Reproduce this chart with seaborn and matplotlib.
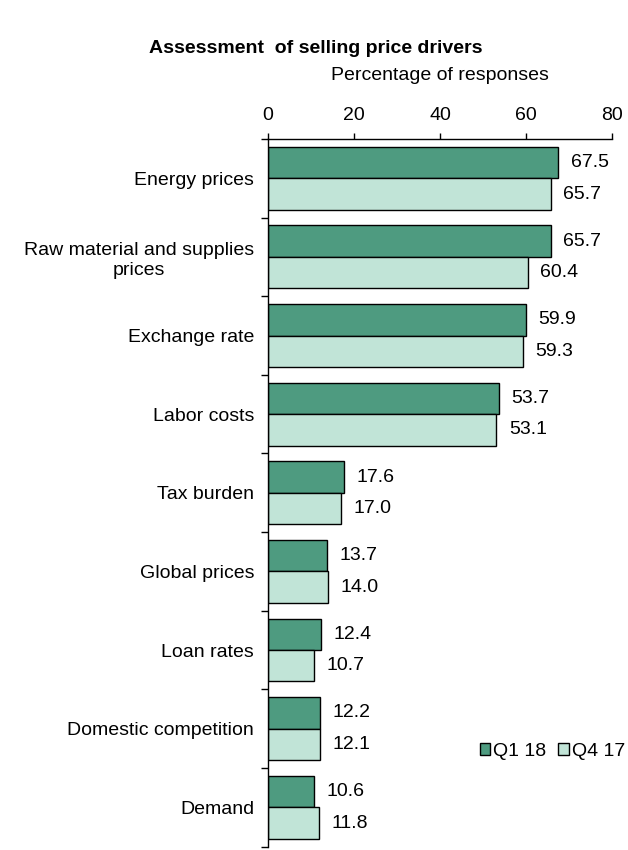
import numpy as np
import pandas as pd
import seaborn as sns
import matplotlib.pyplot as plt

categories = ['Energy prices', 'Raw material and supplies\nprices', 'Exchange rate',
              'Labor costs', 'Tax burden', 'Global prices', 'Loan rates',
              'Domestic competition', 'Demand']
series = ['Q1 18', 'Q4 17']
q1_18 = [67.5, 65.7, 59.9, 53.7, 17.6, 13.7, 12.4, 12.2, 10.6]
q4_17 = [65.7, 60.4, 59.3, 53.1, 17.0, 14.0, 10.7, 12.1, 11.8]
colors = ['#4e9b80', '#c1e4d7']

df = pd.DataFrame({
    'driver': categories * 2,
    'period': [series[0]] * len(categories) + [series[1]] * len(categories),
    'value': q1_18 + q4_17,
})

sns.set_style('white')
plt.rcParams['font.family'] = ['Liberation Sans', 'DejaVu Sans']
plt.rcParams['text.color'] = 'black'
plt.rcParams['axes.labelcolor'] = 'black'
plt.rcParams['xtick.color'] = 'black'
plt.rcParams['ytick.color'] = 'black'

fs = 14

fig = plt.figure(figsize=(6.28, 8.5), dpi=100)
ax = fig.add_axes([0.4268, 0.004, 0.5477, 0.8325])

sns.barplot(data=df, y='driver', x='value', hue='period', order=categories,
            hue_order=series, palette=colors, orient='h', width=0.8,
            edgecolor='black', linewidth=1, saturation=1, ax=ax)

for c in ax.containers:
    ax.bar_label(c, fmt='%.1f', padding=9, fontsize=fs)

ax.set_xlim(0, 80)
ax.set_ylim(len(categories) - 0.5, -0.5)
ax.xaxis.tick_top()
ax.xaxis.set_label_position('top')
ax.set_xticks([0, 20, 40, 60, 80])
ax.tick_params(axis='x', labelsize=fs, length=4, width=1, pad=7, direction='out')
ax.set_xlabel('Percentage of responses', fontsize=fs, labelpad=19)
ax.set_ylabel('')

# tick marks at category boundaries, labels at centres
ax.set_yticks(np.arange(-0.5, len(categories), 1.0))
ax.set_yticklabels([])
ax.set_yticks(np.arange(len(categories)), minor=True)
ax.set_yticklabels(categories, minor=True, fontsize=fs, multialignment='center')
ax.tick_params(axis='y', which='major', length=5, width=1, direction='out', left=True)
ax.tick_params(axis='y', which='minor', length=0, pad=10)

for s in ['right', 'bottom']:
    ax.spines[s].set_visible(False)
for s in ['top', 'left']:
    ax.spines[s].set_color('black')
    ax.spines[s].set_linewidth(1)

leg = ax.legend(loc='center right', bbox_to_anchor=(1.06, 0.135), ncol=2, frameon=False,
                fontsize=fs, handlelength=0.55, handleheight=0.55, handletextpad=0.15,
                columnspacing=0.6, borderaxespad=0)
for h in leg.legend_handles:
    h.set_edgecolor('black')

fig.text(0.502, 0.943, 'Assessment  of selling price drivers', ha='center', va='center',
         fontsize=fs, fontweight='bold')

fig.savefig('out.png', dpi=100)
